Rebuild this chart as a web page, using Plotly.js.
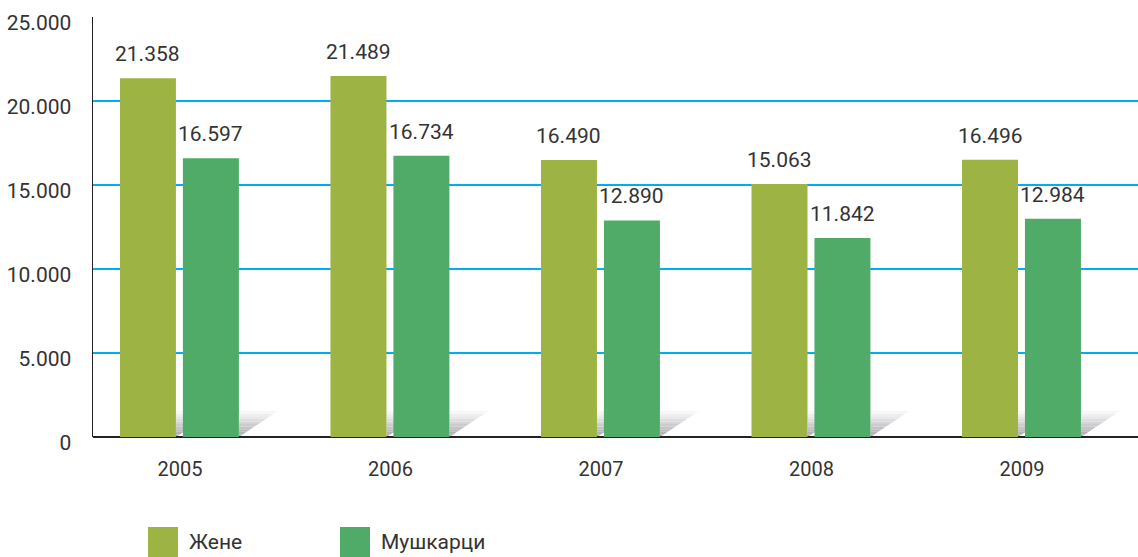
<!DOCTYPE html>
<html>
<head>
<meta charset="utf-8">
<script src="https://cdn.plot.ly/plotly-3.0.1.min.js"></script>
<style>
  html, body { margin: 0; padding: 0; background: #fff; }
  #chart { width: 1138px; height: 557px; }
</style>
</head>
<body>
<div id="chart"></div>
<script>
// data
const years = ['2005', '2006', '2007', '2008', '2009'];
const women = [21358, 21489, 16490, 15063, 16496];
const men = [16597, 16734, 12890, 11842, 12984];
const seriesNames = ['Жене', 'Мушкарци'];
const seriesColors = ['#9db444', '#4fab67'];

const barWidth = 0.266;
const offsets = [-0.285, 0.014];
const fmt = v => v.toLocaleString('de-DE');

const traces = [women, men].map((vals, i) => ({
  type: 'bar',
  name: seriesNames[i],
  x: years.map((_, k) => k),
  y: vals,
  width: barWidth,
  offset: offsets[i],
  marker: {color: seriesColors[i]},
  showlegend: false,
  hoverinfo: 'skip'
}));

// value labels above bars
const annotations = [];
[women, men].forEach((vals, i) => {
  vals.forEach((v, k) => {
    annotations.push({
      x: k + offsets[i] + barWidth / 2, y: v,
      xref: 'x', yref: 'y',
      text: fmt(v), showarrow: false,
      yanchor: 'bottom', yshift: 10,
      font: {size: 21, color: '#333'}
    });
  });
});

// soft shadow behind the bottom right corner of each bar (stacked slices, fading up)
const shapes = [];
const shH = 1550, shW = 0.185, steps = 10;
[0, 1].forEach(i => {
  years.forEach((_, k) => {
    const x0 = k + offsets[i] + barWidth;
    for (let s = 0; s < steps; s++) {
      const ya = shH * s / steps, yb = shH * (s + 1) / steps;
      const g = Math.round(170 + 85 * (s / steps));
      shapes.push({
        type: 'path', xref: 'x', yref: 'y', layer: 'below',
        path: `M ${x0} ${ya} L ${x0 + shW * ya / shH} ${ya} L ${x0 + shW * yb / shH} ${yb} L ${x0} ${yb} Z`,
        fillcolor: `rgb(${g},${g},${g + 3})`, line: {width: 0}
      });
    }
  });
});

// legend drawn by hand with big swatches
const legendX = [148, 340];
seriesNames.forEach((n, i) => {
  shapes.push({
    type: 'rect', xref: 'paper', yref: 'paper',
    x0: (legendX[i] - 93) / 1045, x1: (legendX[i] + 30 - 93) / 1045,
    y0: -120 / 420, y1: -90 / 420,
    fillcolor: seriesColors[i], line: {width: 0}
  });
  annotations.push({
    xref: 'paper', yref: 'paper',
    x: (legendX[i] + 39 - 93) / 1045, y: -105 / 420,
    xanchor: 'left', yanchor: 'middle',
    text: n, showarrow: false,
    font: {size: 21, color: '#333'}
  });
});

const layout = {
  width: 1138,
  height: 557,
  margin: {l: 93, r: 0, t: 17, b: 120},
  paper_bgcolor: '#fff',
  plot_bgcolor: '#fff',
  separators: ',.',
  font: {family: 'Roboto, "Open Sans", sans-serif', size: 20, color: '#333'},
  showlegend: false,
  xaxis: {
    range: [-0.413, 4.551],
    tickvals: years.map((_, k) => k),
    ticktext: years,
    showgrid: false,
    zeroline: false,
    showline: false,
    ticks: '',
    ticklabelstandoff: 18,
    fixedrange: true
  },
  yaxis: {
    range: [0, 25000],
    dtick: 5000,
    tickformat: ',d',
    tickfont: {size: 21},
    showgrid: true,
    gridcolor: '#00aeef',
    gridwidth: 1.5,
    zeroline: true,
    zerolinecolor: '#222',
    zerolinewidth: 2,
    showline: true,
    linecolor: '#222',
    linewidth: 1.5,
    ticks: '',
    ticklabelstandoff: 16,
    ticklabelshift: 6,
    fixedrange: true
  },
  shapes: shapes,
  annotations: annotations
};

Plotly.newPlot('chart', traces, layout, {displayModeBar: false, staticPlot: true});
</script>
</body>
</html>
